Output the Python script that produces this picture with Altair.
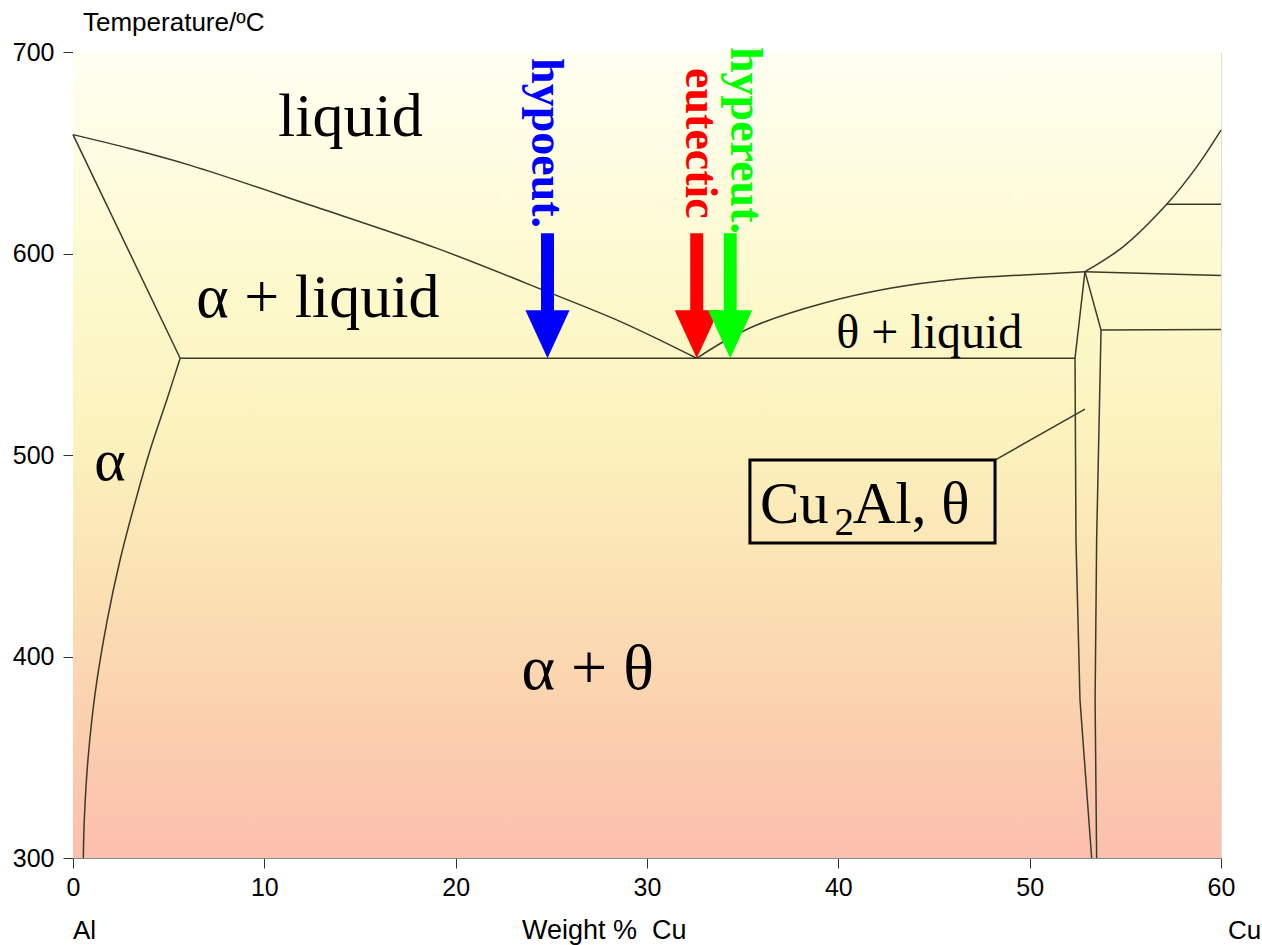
import altair as alt
import pandas as pd

# ---------------- data: phase boundaries (wt% Cu, temperature °C) ----------------
liquidus_al_wt = [0, 3.0, 6.18, 12.63, 19.07, 24.87, 28.73, 32.6]
liquidus_al_T = [659, 652, 643.6, 623.3, 602.4, 580.7, 565.7, 548]

liquidus_theta_wt = [32.6, 33.99, 35.73, 39.21, 42.7, 46.19, 49.67, 52.89]
liquidus_theta_T = [548, 556.2, 564.5, 575.3, 582.7, 587.2, 589.3, 591]

solidus_wt = [0, 5.6]
solidus_T = [659, 548]

solvus_wt = [5.6, 4.9, 4.03, 3.28, 2.46, 1.79, 1.18, 0.78, 0.59, 0.54]
solvus_T = [548, 527.3, 502.5, 477.7, 447.9, 418.1, 383.4, 348.6, 318.9, 300]

eutectic_wt = [5.6, 52.37]
eutectic_T = [548, 548]

theta_left_wt = [52.89, 52.37, 52.42, 52.63, 53.24]
theta_left_T = [591, 548, 457.8, 378.4, 300]

theta_right_wt = [52.89, 53.73, 53.5, 53.42, 53.5]
theta_right_T = [591, 562, 457.8, 378.4, 300]

liquidus_cu_wt = [52.89, 54.88, 57.16, 58.73, 60]
liquidus_cu_T = [591, 603.3, 624.4, 643, 661.2]

iso_624_wt = [57.16, 60]
iso_624_T = [624.4, 624.4]

iso_591_wt = [52.89, 60]
iso_591_T = [591, 589.1]

iso_562_wt = [53.73, 60]
iso_562_T = [562, 562.3]

leader_wt = [48.19, 52.89]
leader_T = [497.5, 522.8]

curved_segments = [
    ("liq_al", liquidus_al_wt, liquidus_al_T),
    ("liq_theta", liquidus_theta_wt, liquidus_theta_T),
    ("solvus", solvus_wt, solvus_T),
    ("liq_cu", liquidus_cu_wt, liquidus_cu_T),
]
straight_segments = [
    ("solidus", solidus_wt, solidus_T),
    ("eutectic", eutectic_wt, eutectic_T),
    ("theta_l", theta_left_wt, theta_left_T),
    ("theta_r", theta_right_wt, theta_right_T),
    ("iso624", iso_624_wt, iso_624_T),
    ("iso591", iso_591_wt, iso_591_T),
    ("iso562", iso_562_wt, iso_562_T),
    ("leader", leader_wt, leader_T),
]

# arrows: composition, top of shaft, tip temperature
arrow_names = ["hypoeut.", "eutectic", "hypereut."]
arrow_wt = [24.8, 32.6, 34.35]
arrow_top_T = [610, 610, 610]
arrow_tip_T = [548, 548, 548]
arrow_colors = ["#0000ff", "#ff0000", "#00ff00"]
arrow_label_wt = [24.7, 32.75, 35.1]
arrow_label_T = [697, 692, 702.5]

# Cu2Al box (wt%, T)
box_wt = [35.38, 48.19]
box_T = [456.3, 497.5]

x_ticks = [0, 10, 20, 30, 40, 50, 60]
y_ticks = [300, 400, 500, 600, 700]

W, H = 1148, 806
xs = alt.Scale(domain=[0, 60], nice=False, zero=False)
ys = alt.Scale(domain=[300, 700], nice=False, zero=False)

AX_FONT = "Liberation Sans"
SERIF = "Liberation Serif"

x_axis = alt.Axis(values=x_ticks, title=None, grid=False, tickSize=10, labelPadding=7,
                  labelFontSize=25, labelFont=AX_FONT, labelColor="black",
                  domainColor="#888888", tickColor="#333333", labelFlush=False)
y_axis = alt.Axis(values=y_ticks, title=None, grid=False, tickSize=10, labelPadding=9,
                  labelFontSize=25, labelFont=AX_FONT, labelColor="black",
                  domainColor="#888888", tickColor="#333333", labelFlush=False)


def X(field="wt"):
    return alt.X(f"{field}:Q", scale=xs, axis=x_axis)


def Y(field="T"):
    return alt.Y(f"{field}:Q", scale=ys, axis=y_axis)


# ---------------- background gradient ----------------
bg = alt.Chart(pd.DataFrame({"a": [0]})).mark_rect(
    fill=alt.LinearGradient(
        gradient="linear", x1=0, x2=0, y1=0, y2=1,
        stops=[
            alt.GradientStop(color="#fffff2", offset=0),
            alt.GradientStop(color="#fdf9cc", offset=0.3),
            alt.GradientStop(color="#fcf2bd", offset=0.48),
            alt.GradientStop(color="#fbdfb3", offset=0.68),
            alt.GradientStop(color="#fbceae", offset=0.85),
            alt.GradientStop(color="#fcbfae", offset=1),
        ],
    )
).encode(x=alt.value(0), x2=alt.value(W), y=alt.value(0), y2=alt.value(H))


# ---------------- phase lines ----------------
def seg_df(segs):
    rows = []
    for name, wts, Ts in segs:
        for i, (w, t) in enumerate(zip(wts, Ts)):
            rows.append({"seg": name, "i": i, "wt": w, "T": t})
    return pd.DataFrame(rows)


curves = alt.Chart(seg_df(curved_segments)).mark_line(
    color="#3a3a2c", strokeWidth=1.5, interpolate="catmull-rom"
).encode(x=X(), y=Y(), detail="seg:N", order="i:Q")

straights = alt.Chart(seg_df(straight_segments)).mark_line(
    color="#3a3a2c", strokeWidth=1.5
).encode(x=X(), y=Y(), detail="seg:N", order="i:Q")

# ---------------- arrows ----------------
arr_df = pd.DataFrame({
    "name": arrow_names, "wt": arrow_wt, "top": arrow_top_T, "tip": arrow_tip_T,
    "color": arrow_colors, "lwt": arrow_label_wt, "lT": arrow_label_T,
})
arr_df["shaft_end"] = [t + 21 for t in arrow_tip_T]
arr_df["head_c"] = [t + 11.9 for t in arrow_tip_T]

shafts = alt.Chart(arr_df).mark_rule(strokeWidth=13, strokeCap="butt").encode(
    x=X(), y=Y("top"), y2="shaft_end:Q", color=alt.Color("color:N", scale=None)
)
heads = alt.Chart(arr_df).mark_point(
    shape="M-0.92,-1L0.92,-1L0,1Z", size=48 * 48, filled=True, opacity=1, strokeWidth=0
).encode(x=X(), y=Y("head_c"), color=alt.Color("color:N", scale=None))
arrow_text = alt.Chart(arr_df).mark_text(
    angle=90, align="left", baseline="middle", font=SERIF, fontWeight="bold", fontSize=46
).encode(x=X("lwt"), y=Y("lT"), text="name:N", color=alt.Color("color:N", scale=None))

# ---------------- Cu2Al box ----------------
box_df = pd.DataFrame({"x1": [box_wt[0]], "x2": [box_wt[1]], "y1": [box_T[0]], "y2": [box_T[1]]})
box = alt.Chart(box_df).mark_rect(filled=False, stroke="black", strokeWidth=3).encode(
    x=X("x1"), x2="x2:Q", y=Y("y1"), y2="y2:Q"
)


def label(text, wt, T, size, align="center"):
    df = pd.DataFrame({"wt": [wt], "T": [T], "t": [text]})
    return alt.Chart(df).mark_text(
        font=SERIF, fontSize=size, align=align, baseline="alphabetic", color="black"
    ).encode(x=X(), y=Y(), text="t:N")


labels = [
    label("liquid", 14.5, 658.5, 62),
    label("α + liquid", 12.8, 568.5, 62),
    label("θ + liquid", 44.75, 553.2, 48),
    label("α", 1.93, 487.5, 60),
    label("α + θ", 26.9, 383.8, 64),
    label("Cu", 35.9, 466.5, 59, "left"),
    label("2", 39.8, 460.2, 39, "left"),
    label("Al, θ", 40.75, 466.5, 59, "left"),
]


def free_text(text, px, py, align="left", size=26):
    df = pd.DataFrame({"t": [text]})
    return alt.Chart(df).mark_text(
        font=AX_FONT, fontSize=size, align=align, baseline="alphabetic", color="black"
    ).encode(x=alt.value(px), y=alt.value(py), text="t:N")


outside = [
    free_text("Temperature/ºC", 10, -21, size=26),
    free_text("Al", 0, 887),
    free_text("Weight %\u00a0\u00a0Cu", 449, 887, size=27),
    free_text("Cu", 1155, 887),
]

chart = alt.layer(
    bg, curves, straights, box, shafts, heads, arrow_text, *labels, *outside
).properties(
    width=W, height=H,
    autosize=alt.AutoSizeParams(type="none"),
    padding={"left": 73, "top": 52, "right": 41, "bottom": 87},
).configure_view(stroke="#888888", strokeWidth=1).configure(background="white")

chart.save("out.html", embed_options={"renderer": "svg", "actions": False})
